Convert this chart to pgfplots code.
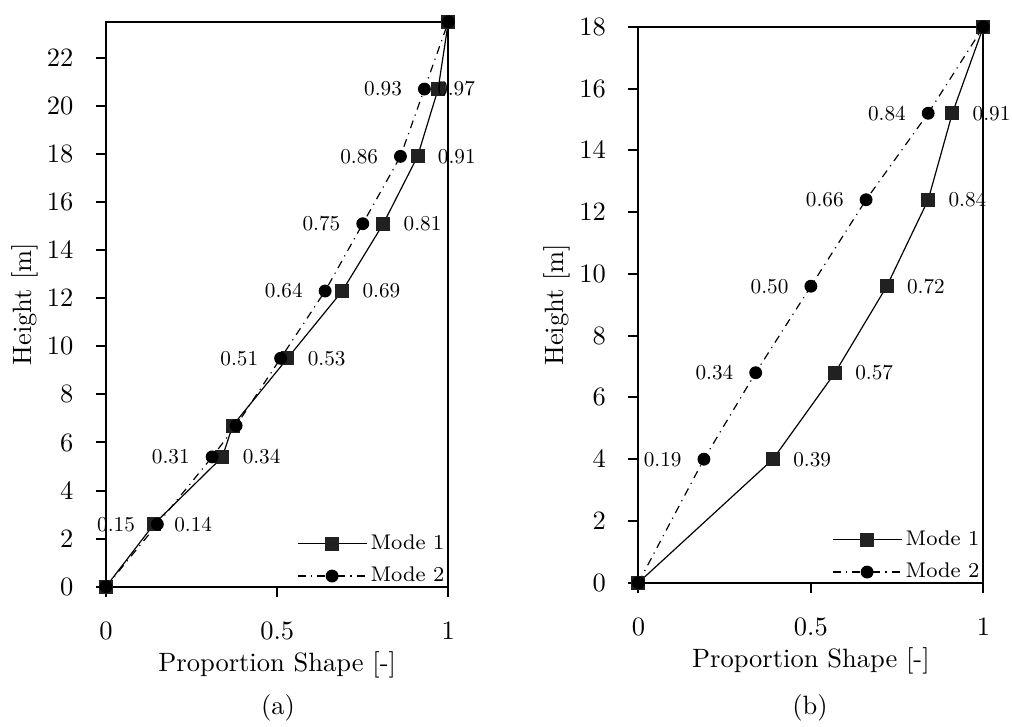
\documentclass[border=0pt]{standalone}
\usepackage{pgfplots}
\pgfplotsset{compat=1.18}
\begin{document}
\begin{tikzpicture}
\pgfplotsset{
  modeaxis/.style={
    scale only axis,
    anchor=south west,
    axis line style={line width=0.75pt},
    every tick/.style={line width=0.75pt, black},
    tick align=outside,
    major tick length=3.8pt,
    xtick pos=left, ytick pos=left,
    xmin=0, xmax=1,
    xtick={0,0.5,1},
    xticklabels={0,0.5,1},
    xticklabel style={anchor=north, inner sep=0pt, yshift=-9.4pt},
    yticklabel style={anchor=east, inner sep=0pt, xshift=-8.3pt},
    xlabel={Proportion Shape [-]},
    ylabel={Height [m]},
    every axis x label/.style={at={([yshift=-29.5pt]axis description cs:0.5,0)}, anchor=center},
    every axis y label/.style={at={([xshift=-30.6pt]axis description cs:0,0.5)}, anchor=center, rotate=90},
    clip=false,
    legend style={draw=none, fill=none, at={(axis description cs:1,0)}, anchor=south east,
      xshift=1pt, yshift=-2pt, font=\fontsize{8}{9.6}\selectfont, row sep=2.5pt, inner sep=1pt,
      nodes={inner sep=1.3pt}},
    legend cell align=left,
    legend image code/.code={\draw[mark repeat=2,mark phase=2] plot coordinates {(0pt,0pt) (13pt,0pt) (26pt,0pt)};},
  },
  m1/.style={black, line width=0.45pt, mark=square*, mark size=2.4pt,
     mark options={solid, fill=black!87, draw=black!87},
     nodes near coords, point meta=explicit symbolic,
     nodes near coords style={anchor=west, inner sep=0pt, xshift=7.5pt, scale=0.8, text=black, font=\normalsize}},
  m2/.style={black, line width=0.45pt, dash dot, mark=*, mark size=2.2pt,
     mark options={solid, fill=black},
     nodes near coords, point meta=explicit symbolic,
     nodes near coords style={anchor=east, inner sep=0pt, xshift=-8.3pt, scale=0.8, text=black, font=\normalsize}},
}
\path[use as bounding box] (0,0) rectangle (381.9pt,-274.3pt);

\begin{axis}[modeaxis, at={(40.0pt,-221.4pt)}, width=129.2pt, height=213.2pt,
  ymin=0, ymax=23.5, ytick={0,2,...,22}]
\addplot[m1] coordinates {
 (0,0) []
 (0.14,2.6) [0.14]
 (0.34,5.4) [0.34]
 (0.37,6.7) []
 (0.53,9.5) [0.53]
 (0.69,12.3) [0.69]
 (0.81,15.1) [0.81]
 (0.91,17.9) [0.91]
 (0.97,20.7) [\hspace*{-10pt}0.97]
 (1,23.5) []
};
\addlegendentry{Mode 1}
\addplot[m2] coordinates {
 (0,0) []
 (0.15,2.6) [0.15]
 (0.31,5.4) [0.31]
 (0.38,6.7) []
 (0.51,9.5) [0.51]
 (0.64,12.3) [0.64]
 (0.75,15.1) [0.75]
 (0.86,17.9) [0.86]
 (0.93,20.7) [0.93]
 (1,23.5) []
};
\addlegendentry{Mode 2}
\end{axis}

\begin{axis}[modeaxis, at={(240.9pt,-219.9pt)}, width=130.2pt, height=209.8pt,
  ymin=0, ymax=18, ytick={0,2,...,18}]
\addplot[m1] coordinates {
 (0,0) []
 (0.39,4) [0.39]
 (0.57,6.8) [0.57]
 (0.72,9.6) [0.72]
 (0.84,12.4) [0.84]
 (0.91,15.2) [0.91]
 (1,18) []
};
\addlegendentry{Mode 1}
\addplot[m2] coordinates {
 (0,0) []
 (0.19,4) [0.19]
 (0.34,6.8) [0.34]
 (0.50,9.6) [0.50]
 (0.66,12.4) [0.66]
 (0.84,15.2) [0.84]
 (1,18) []
};
\addlegendentry{Mode 2}
\end{axis}

\node at (104.9pt,-267.2pt) {(a)};
\node at (305.7pt,-267.2pt) {(b)};
\end{tikzpicture}
\end{document}
